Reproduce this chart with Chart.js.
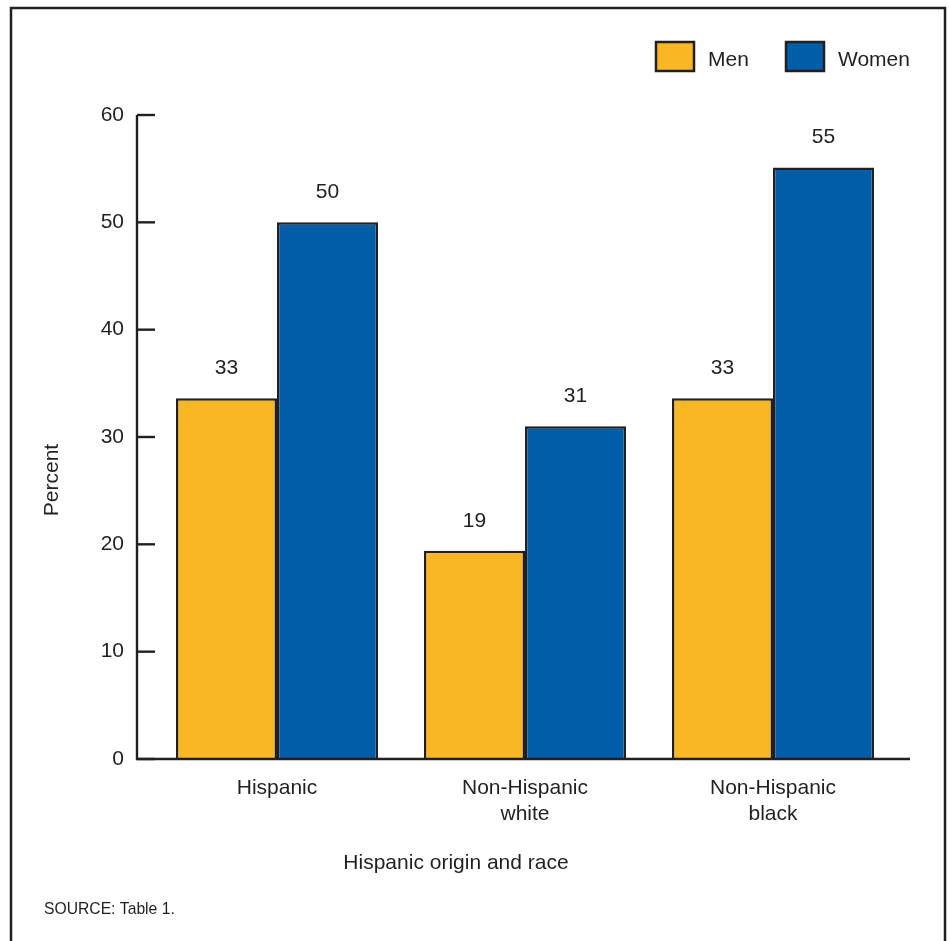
<!DOCTYPE html>
<html>
<head>
<meta charset="utf-8">
<script src="https://cdn.jsdelivr.net/npm/chart.js@4.4.1/dist/chart.umd.min.js"></script>
<style>
html,body{margin:0;padding:0;background:#fff;}
#wrap{width:949px;height:941px;position:relative;}
</style>
</head>
<body>
<div id="wrap"><canvas id="c" width="949" height="941"></canvas></div>
<script>
const categories = [["Hispanic"], ["Non-Hispanic", "white"], ["Non-Hispanic", "black"]];
const menValues = [33.6, 19.4, 33.6];
const womenValues = [50.0, 31.0, 55.1];
const menLabels = ["33", "19", "33"];
const womenLabels = ["50", "31", "55"];
const yTicks = [0, 10, 20, 30, 40, 50, 60];
const xTitle = "Hispanic origin and race";
const yTitle = "Percent";
const sourceNote = "SOURCE: Table 1.";

const FONT = "'Liberation Sans', Arial, Helvetica, sans-serif";
const INK = "#231f20";
const YELLOW = "#f9b625";
const BLUE = "#005ea8";

const decor = {
  id: "decor",
  afterDatasetsDraw(chart) {
    const ctx = chart.ctx;
    const ca = chart.chartArea;
    const y = chart.scales.y;
    ctx.save();
    // outer frame
    ctx.strokeStyle = INK;
    ctx.lineWidth = 2.5;
    ctx.strokeRect(11, 8, 934, 945);
    // axes
    const axX = ca.left - 16;
    const axRight = ca.right + 13;
    ctx.lineWidth = 2.4;
    ctx.beginPath();
    ctx.moveTo(axX, y.getPixelForValue(60));
    ctx.lineTo(axX, y.getPixelForValue(0));
    ctx.lineTo(axRight, y.getPixelForValue(0));
    ctx.stroke();
    // inward tick marks
    yTicks.forEach(v => {
      const py = y.getPixelForValue(v);
      ctx.beginPath();
      ctx.moveTo(axX, py);
      ctx.lineTo(axX + 18, py);
      ctx.stroke();
    });
    // data labels
    ctx.fillStyle = INK;
    ctx.font = "21px " + FONT;
    ctx.textAlign = "center";
    ctx.textBaseline = "middle";
    const lbls = [menLabels, womenLabels];
    chart.data.datasets.forEach((ds, di) => {
      chart.getDatasetMeta(di).data.forEach((bar, i) => {
        ctx.fillText(lbls[di][i], bar.x, bar.y - 30);
      });
    });
    // axis titles
    ctx.fillText(xTitle, 456, 863);
    ctx.save();
    ctx.translate(52, 480);
    ctx.rotate(-Math.PI / 2);
    ctx.fillText(yTitle, 0, 0);
    ctx.restore();
    // source
    ctx.font = "15.7px " + FONT;
    ctx.textAlign = "left";
    ctx.fillText(sourceNote, 44, 910);
    // legend
    ctx.font = "21px " + FONT;
    const items = [[656, 708], [786, 838]];
    chart.data.datasets.forEach((ds, di) => {
      const [bx, tx] = items[di];
      ctx.fillStyle = ds.backgroundColor;
      ctx.fillRect(bx, 42, 38, 29);
      ctx.lineWidth = 2.5;
      ctx.strokeStyle = INK;
      ctx.strokeRect(bx, 42, 38, 29);
      ctx.fillStyle = INK;
      ctx.fillText(ds.label, tx, 60);
    });
    ctx.restore();
  }
};

new Chart(document.getElementById("c"), {
  type: "bar",
  data: {
    labels: categories,
    datasets: [
      { label: "Men", data: menValues, backgroundColor: YELLOW, borderColor: INK, borderWidth: 2.5, borderSkipped: "start" },
      { label: "Women", data: womenValues, backgroundColor: BLUE, borderColor: INK, borderWidth: 2.5, borderSkipped: "start" }
    ]
  },
  options: {
    responsive: false,
    animation: false,
    layout: { padding: { top: 115, right: 52, left: 0, bottom: 0 } },
    plugins: { legend: { display: false }, tooltip: { enabled: false } },
    datasets: { bar: { categoryPercentage: 0.815, barPercentage: 1.0 } },
    scales: {
      x: {
        grid: { display: false, drawTicks: false },
        border: { display: false },
        ticks: { color: INK, font: { family: FONT, size: 21, lineHeight: 1.2 }, padding: 17, maxRotation: 0 },
        afterFit(s) { s.height = 182; }
      },
      y: {
        min: 0, max: 60,
        afterBuildTicks(s) { s.ticks = yTicks.map(v => ({ value: v })); },
        grid: { display: false, drawTicks: false },
        border: { display: false },
        ticks: { color: INK, font: { family: FONT, size: 21 }, padding: 29 },
        afterFit(s) { s.width = 153; }
      }
    }
  },
  plugins: [decor]
});
</script>
</body>
</html>
